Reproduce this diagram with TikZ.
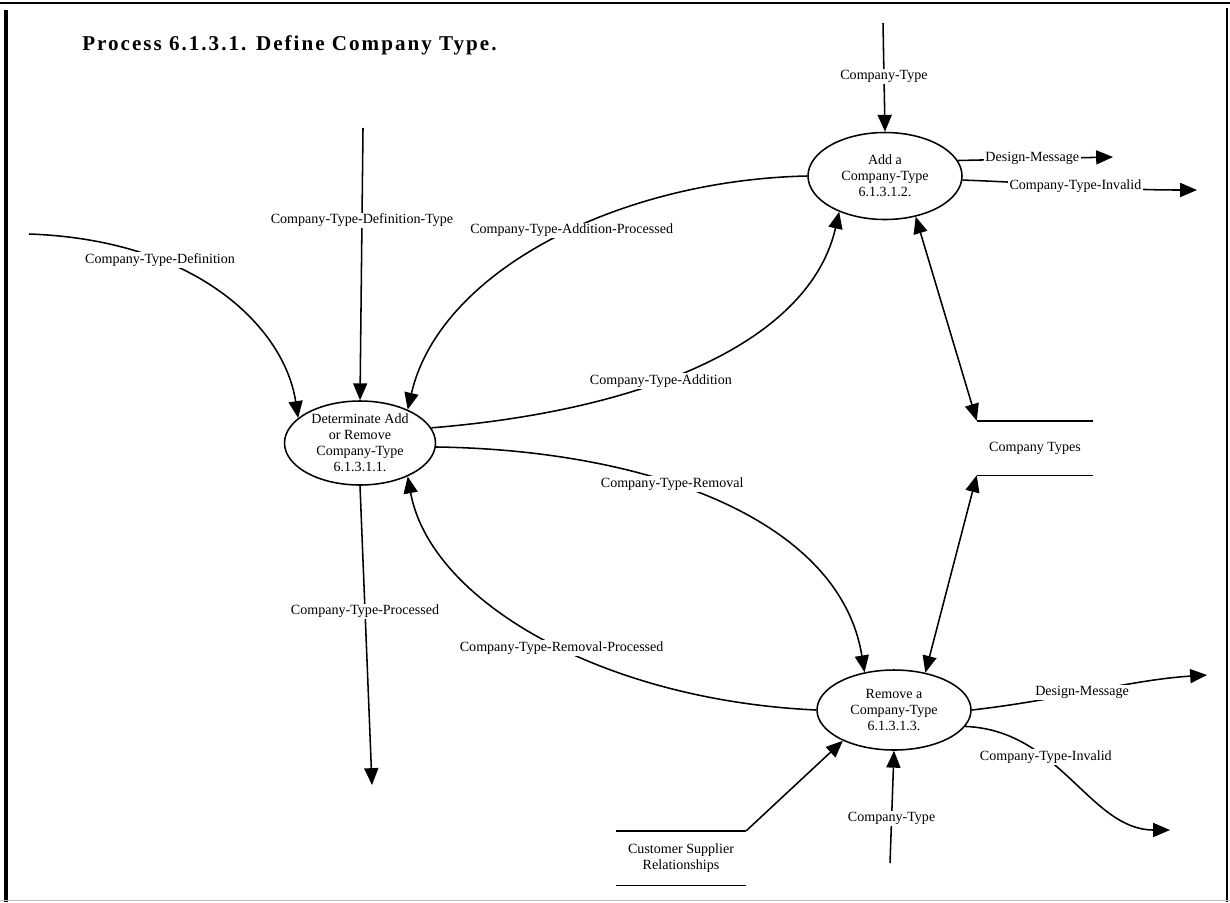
\documentclass[tikz,border=0pt]{standalone}
\usepackage{fontspec}
\setmainfont{Liberation Serif}
\newfontfamily\titlefont[LetterSpace=9.5]{Liberation Serif}
\usepackage{tikz}
\usetikzlibrary{shapes.geometric,arrows.meta}
\tikzset{c-ellipse/.style={ellipse, draw=black, line width=1.1pt, fill=white, minimum width=38.5mm, minimum height=21mm, inner sep=0pt, align=center, font=\fontsize{10}{11.3}\selectfont},
c-store/.style={minimum width=29mm, minimum height=13.5mm, inner sep=0pt, align=center, font=\fontsize{10}{11.5}\selectfont},
lbl/.style={fill=white, inner sep=1pt, font=\fontsize{10}{12}\selectfont},
arrow/.style={line width=1.1pt,-{Triangle[length=12pt,width=10pt]}},
arrow2/.style={line width=1.1pt,{Triangle[length=12pt,width=10pt]}-{Triangle[length=12pt,width=10pt]}}}

\begin{document}
\begin{tikzpicture}[x=0.25mm, y=-0.25mm]
\useasboundingbox (0,0) rectangle (1230,902);
% frame
\draw[line width=1.2pt] (0,3) -- (1230,3);
\draw[line width=2.2pt] (6,10) -- (6,902);
\draw[line width=1.5pt] (1227,8) -- (1227,902);
\draw[black!25, line width=0.6pt] (0,900.5) -- (1230,900.5);

\node (title) [anchor=base west, inner sep=0pt] at (82,50) {\fontsize{15}{17}\titlefont\bfseries Process 6.1.3.1. Define Company Type.};

% processes
\node (n1) [c-ellipse, minimum width=37.75mm] at (360,443) {Determinate Add\\or Remove\\Company-Type\\6.1.3.1.1.};
\node (n2) [c-ellipse, minimum height=21.75mm] at (885,176) {Add a\\Company-Type\\6.1.3.1.2.};
\node (n3) [c-ellipse, minimum height=20mm] at (894,710) {Remove a\\Company-Type\\6.1.3.1.3.};

% data stores
\node (ct) [c-store] at (1035,448) {Company Types};
\draw[line width=1.1pt] (ct.north west) -- (ct.north east);
\draw[line width=1.1pt] (ct.south west) -- (ct.south east);
\node (cs) [c-store, minimum width=32.5mm] at (681,858) {Customer Supplier\\Relationships};
\draw[line width=1.1pt] (cs.north west) -- (cs.north east);
\draw[line width=1.1pt] (cs.south west) -- (cs.south east);

% free ends
\coordinate (def-in) at (29,234);
\coordinate (dt-in) at (363,128);
\coordinate (ctp-out) at (372,785);
\coordinate (ct-top) at (883,23);
\coordinate (dm1-out) at (1113,157);
\coordinate (inv1-out) at (1197,190);
\coordinate (dm2-out) at (1207,675);
\coordinate (inv2-out) at (1170,830);
\coordinate (ct-bot) at (890,863);

% flows into and out of n1
\draw[arrow] (def-in) .. controls (200,240) and (285,330) .. node[lbl, pos=.3] (l1) {Company-Type-Definition} (n1.158);
\draw[arrow] (dt-in) -- node[lbl, pos=.34] (l2) {Company-Type-Definition-Type} (n1.north);
\draw[arrow] (n2.west) .. controls (620,180) and (440,270) .. node[lbl, pos=.45] (l3) {Company-Type-Addition-Processed} (n1.35);
\draw[arrow] (n1.12) .. controls (650,410) and (810,340) .. node[lbl, pos=.4] (l4) {Company-Type-Addition} (n2.-142);
\draw[arrow] (n1.-3) .. controls (650,450) and (840,520) .. node[lbl, pos=.4] (l5) {Company-Type-Removal} (n3.128);
\draw[arrow] (n3.west) .. controls (600,700) and (430,600) .. node[lbl, pos=.45] (l6) {Company-Type-Removal-Processed} (n1.-35);
\draw[arrow] (n1.south) -- node[lbl, pos=.42] (l7) {Company-Type-Processed} (ctp-out);

% flows of n2
\draw[arrow] (ct-top) -- node[lbl, pos=.49] (l8) {Company-Type} (n2.north);
\draw[arrow] (n2.12) -- node[lbl, pos=.48] (l9) {Design-Message} (dm1-out);
\draw[arrow] (n2.-3) to[out=-2, in=180] node[lbl, pos=.48] (l10) {Company-Type-Invalid} (inv1-out);
\draw[arrow2] (n2.-53) -- (ct.north west);

% flows of n3
\draw[arrow2] (ct.south west) -- (n3.50);
\draw[arrow] (n3.east) .. controls (1060,700) and (1130,680) .. node[lbl, pos=.45] (l11) {Design-Message} (dm2-out);
\draw[arrow] (n3.-13) .. controls (1060,730) and (1090,830) .. node[lbl, pos=.35] (l12) {Company-Type-Invalid} (inv2-out);
\draw[arrow] (ct-bot) -- node[lbl, pos=.4] (l13) {Company-Type} (n3.south);
\draw[arrow] (cs.north east) -- (n3.211);
\end{tikzpicture}
\end{document}
